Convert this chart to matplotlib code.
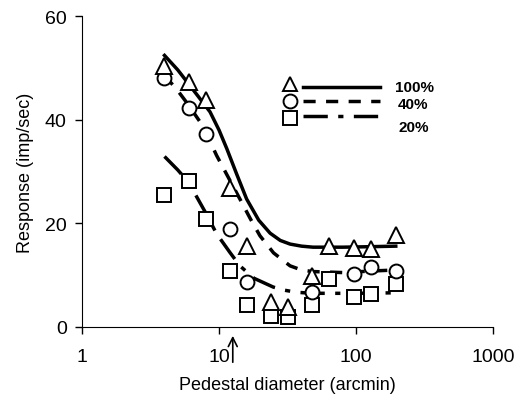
import numpy as np
import matplotlib
matplotlib.use('Agg')
import matplotlib.pyplot as plt
from matplotlib.lines import Line2D

plt.rcParams['font.family'] = ['Liberation Sans', 'DejaVu Sans']

# measured responses (imp/sec) vs pedestal diameter (arcmin)
x_100 = [4.0, 6.0, 8.1, 12.0, 16.0, 24.0, 32.0, 48.0, 64.0, 96.0, 128.0, 195.0]
y_100 = [50.4, 47.2, 43.7, 26.8, 15.7, 4.8, 3.8, 9.9, 15.6, 15.2, 15.1, 17.8]

x_40 = [4.0, 6.0, 8.0, 12.0, 16.0, 48.0, 96.0, 128.0, 195.0]
y_40 = [48.0, 42.3, 37.3, 18.9, 8.6, 6.8, 10.2, 11.5, 10.8]

x_20 = [4.0, 6.0, 8.0, 12.0, 16.0, 24.0, 32.0, 48.0, 64.0, 96.0, 128.0, 195.0]
y_20 = [25.5, 28.1, 20.8, 10.9, 4.2, 2.1, 1.9, 4.2, 9.3, 5.7, 6.4, 8.3]

# fitted curves
fx_100 = [4.0, 5.0, 6.0, 7.0, 8.6, 10.0, 11.4, 13.5, 15.9, 19.5, 23.6, 28.0, 33.0,
          40.0, 48.5, 80.0, 130.0, 195.0]
fy_100 = [52.4, 49.6, 46.9, 44.6, 41.5, 38.0, 34.4, 29.4, 24.7, 20.6, 18.1, 16.7, 16.0,
          15.6, 15.4, 15.4, 15.5, 15.6]

fx_40 = [4.0, 4.9, 6.0, 7.3, 8.4, 9.6, 12.0, 14.2, 17.0, 19.9, 25.0, 33.0, 40.0,
         48.0, 80.0, 130.0, 195.0]
fy_40 = [48.5, 45.9, 42.8, 39.5, 36.4, 33.1, 28.3, 24.7, 20.8, 17.6, 14.3, 11.8, 11.0,
         10.7, 10.5, 10.8, 11.0]

fx_20 = [4.0, 5.0, 6.0, 8.0, 9.6, 12.0, 14.2, 18.0, 24.9, 30.0, 36.8, 48.0, 60.0,
         100.0, 195.0]
fy_20 = [32.9, 30.3, 27.9, 22.0, 18.0, 14.4, 11.8, 9.4, 7.7, 7.1, 6.7, 6.5, 6.5,
         6.5, 6.6]

labels = ['100%', '40%', '20%']

fig = plt.figure(figsize=(5.19, 4.10), dpi=100)
ax = fig.add_axes([0.158, 0.2, 0.792, 0.7585])

ms_kw = dict(color='none', markerfacecolor='white', markeredgecolor='black',
             markeredgewidth=1.4, linestyle='none', zorder=3)
ax.plot(fx_100, fy_100, color='black', lw=2.5, zorder=2, solid_joinstyle='round')
ax.plot(fx_40, fy_40, color='black', lw=2.5, dashes=(3.5, 3), zorder=2)
ax.plot(fx_20, fy_20, color='black', lw=2.5, dashes=(7, 3, 1.5, 3), zorder=2)

ax.plot(x_20, y_20, marker='s', markersize=10.5, **ms_kw)
ax.plot(x_40, y_40, marker='o', markersize=10, **ms_kw)
ax.plot(x_100, y_100, marker='^', markersize=11.5, **ms_kw)

ax.set_xscale('log')
ax.set_xlim(1, 1000)
ax.set_ylim(0, 60)
ax.set_yticks([0, 20, 40, 60])
ax.set_xticks([1, 10, 100, 1000])
ax.set_xticklabels(['1', '10', '100', '1000'])
ax.xaxis.set_minor_locator(matplotlib.ticker.NullLocator())
for s in ['top', 'right']:
    ax.spines[s].set_visible(False)
ax.tick_params(direction='out', length=5, width=1, labelsize=14, pad=6)
ax.tick_params(axis='x', pad=10)
ax.set_xlabel('Pedestal diameter (arcmin)', fontsize=13, labelpad=8)
ax.set_ylabel('Response (imp/sec)', fontsize=13, labelpad=8)

# legend drawn by hand: marker, gap, line sample, label
rows = [(0.781, 0.772, '^', None), (0.727, 0.727, 'o', (3.5, 3)),
        (0.672, 0.678, 's', (7, 3, 1.5, 3))]
label_pos = [(0.762, 0.772), (0.769, 0.717), (0.769, 0.643)]
for (my, ly, mk, dsh), lab, (tx, ty) in zip(rows, labels, label_pos):
    ax.plot([0.506], [my], marker=mk, markersize=10, markerfacecolor='white',
            markeredgecolor='black', markeredgewidth=1.4, transform=ax.transAxes,
            clip_on=False, linestyle='none')
    ln = Line2D([0.537, 0.725], [ly, ly], color='black', lw=2.5, transform=ax.transAxes)
    if dsh is not None:
        ln.set_dashes(dsh)
    ax.add_line(ln)
    ax.text(tx, ty, lab, transform=ax.transAxes,
            fontsize=11, fontweight='bold', va='center', ha='left')

# arrow marking pedestal size
ax.annotate('', xy=(12.6, -1.7), xytext=(12.6, -6.8),
            arrowprops=dict(arrowstyle='->', lw=1.2, color='black', mutation_scale=16,
                            shrinkA=0, shrinkB=0),
            annotation_clip=False)

fig.savefig('out.png', dpi=100)
